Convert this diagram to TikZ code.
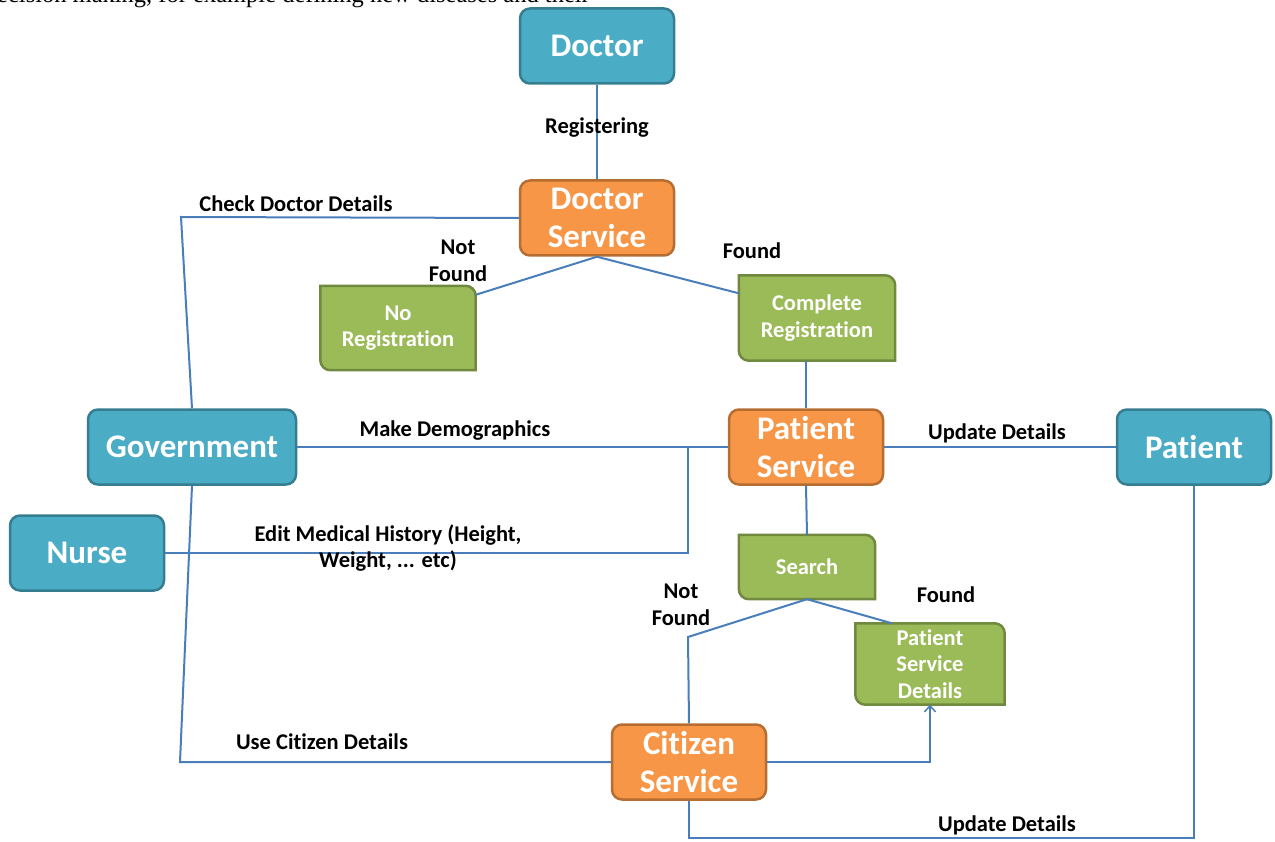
\documentclass[tikz,border=0pt]{standalone}
\usepackage{fontspec}
\setmainfont{Carlito}[Ligatures=NoCommon]
\newfontfamily\pageserif{Liberation Serif}
\usetikzlibrary{arrows.meta,backgrounds,calc}
\definecolor{actorfill}{HTML}{4BACC6}
\definecolor{actorline}{HTML}{357D91}
\definecolor{servicefill}{HTML}{F79646}
\definecolor{serviceline}{HTML}{B66D31}
\definecolor{resultfill}{HTML}{9BBB59}
\definecolor{resultline}{HTML}{71893F}
\definecolor{linkblue}{HTML}{4A7EBB}
\tikzset{
    bigbox/.style={rounded corners=10pt, line width=2.5pt, minimum width=154pt, minimum height=75pt,
        inner sep=0pt, align=center, text=white, font=\fontsize{33}{38}\selectfont\bfseries},
    actor/.style={bigbox, draw=actorline, fill=actorfill},
    service/.style={bigbox, draw=serviceline, fill=servicefill},
    result/.style={inner sep=0pt, align=center, text=white, font=\fontsize{22.5}{26.5}\selectfont\bfseries},
    resultshape/.style={fill=resultfill, draw=resultline, line width=2.5pt},
    link/.style={draw=linkblue, line width=2pt},
    lbl/.style={align=center, inner sep=0pt, font=\fontsize{22.5}{26.5}\selectfont\bfseries}
}
\begin{document}
\begin{tikzpicture}[x=1pt, y=1pt]
    \def \R {10}
    \useasboundingbox (0,0) rectangle (1275,-842);
    \node[anchor=base west, inner sep=0pt, font=\pageserif\fontsize{24.5}{24.5}\selectfont] (pagetext) at (-3,-3) {ecision making, for example defining new diseases and their};
    % boxes
    \node[actor] (doctor) at (597,-46) {Doctor};
    \node[service] (docsrv) at (597,-218) {Doctor\\Service};
    \node[result, minimum width=155pt, minimum height=84pt] (noreg) at (398,-328) {No\\Registration};
    \node[result, minimum width=156pt, minimum height=85pt] (compreg) at (817,-318) {Complete\\Registration};
    \node[actor, minimum width=208pt] (gov) at (192,-447) {Government};
    \node[service] (patsrv) at (806,-447) {Patient\\Service};
    \node[actor] (patient) at (1194,-447) {Patient};
    \node[actor] (nurse) at (87,-553) {Nurse};
    \node[result, minimum width=136pt, minimum height=64pt] (search) at (807,-567) {Search};
    \node[result, minimum width=149pt, minimum height=81pt] (psdet) at (930,-664) {Patient\\Service\\Details};
    \node[service] (citsrv) at (689,-762) {Citizen\\Service};
    \begin{scope}[on background layer]
    \foreach \n in {noreg, compreg, search, psdet}
        \path[resultshape] ($(\n.north east)+(-\R,0)$) arc[start angle=90, end angle=0, radius=\R]
            -- (\n.south east) -- ($(\n.south west)+(\R,0)$) arc[start angle=270, end angle=180, radius=\R]
            -- (\n.north west) -- cycle;
    \end{scope}
    % connectors
    \coordinate (c1) at (181,-217);
    \coordinate (c2) at (180,-762);
    \coordinate (c3) at (1194,-838);
    \coordinate (c4) at (688,-637);
    \coordinate (j1) at (688,-448);
    \draw[link] (doctor.south) -- (docsrv.north);
    \draw[link] (docsrv.west) -- (c1) -- (gov.north);
    \draw[link] (gov.south) -- (c2) -- (citsrv.west);
    \draw[link] ($(noreg.north east)+(0,-9)$) -- (docsrv.south) -- ($(compreg.north west)+(0,-18)$);
    \draw[link] (patsrv.north) -- (patsrv.north |- compreg.south);
    \draw[link] (gov.east) -- (patsrv.west);
    \draw[link] (nurse.east) -| (j1);
    \draw[link] (patsrv.east) -- (patient.west);
    \draw[link] (patsrv.south) -- (search.north);
    \draw[link] (citsrv.north) -- (c4) -- (search.south) -- ($(psdet.north)+(-38,0)$);
    \draw[link, -{Straight Barb[length=6pt, width=11pt, line width=1.5pt]}] (citsrv.east) -| (psdet.south);
    \draw[link] (citsrv.south) |- (c3) -- (patient.south);
    % labels
    \node[lbl] (lregister) at (597,-128) {Registering};
    \node[lbl] (lcheck) at (296,-204) {Check Doctor Details};
    \node[lbl] (lnotfound) at (458,-261) {Not\\Found};
    \node[lbl] (lfound) at (752,-251) {Found};
    \node[lbl] (ldemo) at (455,-431) {Make Demographics};
    \node[lbl] (lupdate) at (997,-433) {Update Details};
    \node[lbl] (ledit) at (388,-548) {Edit Medical History (Height,\\Weight, ... etc)};
    \node[lbl] (lnotfound2) at (681,-605) {Not\\Found};
    \node[lbl] (lfound2) at (946,-595) {Found};
    \node[lbl] (lcitizen) at (322,-742) {Use Citizen Details};
    \node[lbl] (lupdate2) at (1007,-825) {Update Details};
\end{tikzpicture}
\end{document}
